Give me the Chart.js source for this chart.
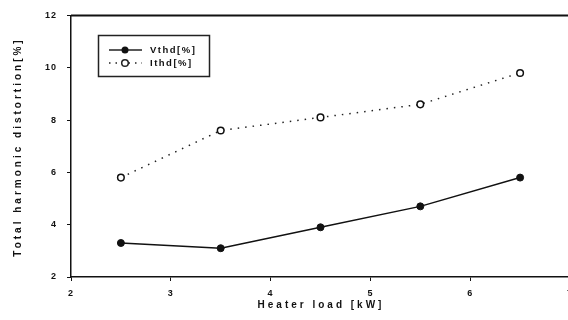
<!DOCTYPE html>
<html><head><meta charset="utf-8">
<script src="https://cdn.jsdelivr.net/npm/chart.js@4/dist/chart.umd.min.js"></script>
<style>
html,body{margin:0;padding:0;background:#fff;overflow:hidden;width:568px;height:320px;}
#wrap{position:relative;width:600px;height:320px;}
</style></head>
<body><div id="wrap"><canvas id="c" width="600" height="320"></canvas></div>
<script>
const heaterLoad = [2.5, 3.5, 4.5, 5.5, 6.5];
const vthd = [3.3, 3.1, 3.9, 4.7, 5.8];
const ithd = [5.8, 7.6, 8.1, 8.6, 9.8];
const seriesLabels = ['Vthd[%]', 'Ithd[%]'];
const xTitle = 'Heater load [kW]';
const yTitle = 'Total harmonic distortion[%]';

const FONT = '"Liberation Sans", Arial, sans-serif';

const spacing = {
  id: 'spacing',
  beforeDraw(chart){ chart.ctx.letterSpacing = '1px'; }
};

const frame = {
  id: 'frame',
  afterDatasetsDraw(chart){
    const {ctx, chartArea:a} = chart;
    ctx.save();
    ctx.strokeStyle = '#111';
    ctx.lineWidth = 2;
    ctx.beginPath();
    ctx.moveTo(a.left, a.top); ctx.lineTo(a.right, a.top);
    ctx.stroke();
    // axis titles
    ctx.fillStyle = '#111';
    ctx.font = 'bold 10px ' + FONT;
    ctx.letterSpacing = '3px';
    ctx.textAlign = 'center';
    ctx.textBaseline = 'middle';
    ctx.fillText(xTitle, 321, 305);
    ctx.save();
    ctx.translate(18, 147);
    ctx.rotate(-Math.PI/2);
    ctx.fillText(yTitle, 0, 0);
    ctx.restore();
    // legend box
    const bx = 98.5, by = 35.5, bw = 111, bh = 41;
    ctx.lineWidth = 1.5;
    ctx.strokeStyle = '#222';
    ctx.strokeRect(bx, by, bw, bh);
    ctx.font = 'bold 9.5px ' + FONT;
    ctx.letterSpacing = '1.5px';
    ctx.textAlign = 'left';
    ctx.fillStyle = '#111';
    const ds = chart.data.datasets;
    // Vthd
    ctx.lineWidth = 1.5;
    ctx.setLineDash([]);
    ctx.beginPath(); ctx.moveTo(109, 50); ctx.lineTo(142, 50); ctx.stroke();
    ctx.beginPath(); ctx.arc(125, 50, 3.5, 0, Math.PI*2); ctx.fillStyle='#111'; ctx.fill();
    ctx.fillText(ds[0].label, 150, 50);
    // Ithd
    ctx.setLineDash([1.5, 5]);
    ctx.beginPath(); ctx.moveTo(109, 63); ctx.lineTo(142, 63); ctx.stroke();
    ctx.setLineDash([]);
    ctx.beginPath(); ctx.arc(125, 63, 3.3, 0, Math.PI*2); ctx.fillStyle='#fff'; ctx.fill(); ctx.stroke();
    ctx.fillStyle = '#111';
    ctx.fillText(ds[1].label, 150, 63);
    ctx.restore();
  }
};

new Chart(document.getElementById('c'), {
  type: 'line',
  data: {
    datasets: [
      { label: seriesLabels[0], data: heaterLoad.map((x,i)=>({x, y: vthd[i]})),
        borderColor: '#111', borderWidth: 1.5, pointRadius: 3.5, pointBackgroundColor: '#111',
        pointBorderColor: '#111', pointBorderWidth: 1, tension: 0 },
      { label: seriesLabels[1], data: heaterLoad.map((x,i)=>({x, y: ithd[i]})),
        borderColor: '#222', borderWidth: 1.5, borderDash: [1.5, 6], pointRadius: 3.3,
        pointBackgroundColor: '#fff', pointBorderColor: '#111', pointBorderWidth: 1.5, tension: 0 }
    ]
  },
  options: {
    responsive: false, animation: false,
    layout: { padding: { top: 14, right: 30, left: 0, bottom: 0 } },
    plugins: { legend: { display: false }, tooltip: { enabled: false } },
    scales: {
      x: {
        type: 'linear', min: 2, max: 7,
        ticks: { stepSize: 1, color: '#111', font: { family: FONT, size: 9, weight: 'bold' }, padding: 7, maxRotation: 0 },
        grid: { drawOnChartArea: false, drawTicks: true, tickLength: 4, color: '#111', lineWidth: 1 },
        border: { display: true, color: '#111', width: 1.5 },
        title: { display: false, text: xTitle },
        afterFit(s){ s.height = 43; }
      },
      y: {
        min: 2, max: 12,
        ticks: { stepSize: 2, color: '#111', font: { family: FONT, size: 9, weight: 'bold' }, padding: 10 },
        grid: { drawOnChartArea: false, drawTicks: true, tickLength: 4, color: '#111', lineWidth: 1 },
        border: { display: true, color: '#111', width: 1.5 },
        title: { display: false, text: yTitle },
        afterFit(s){ s.width = 71; }
      }
    }
  },
  plugins: [spacing, frame]
});
</script></body></html>
